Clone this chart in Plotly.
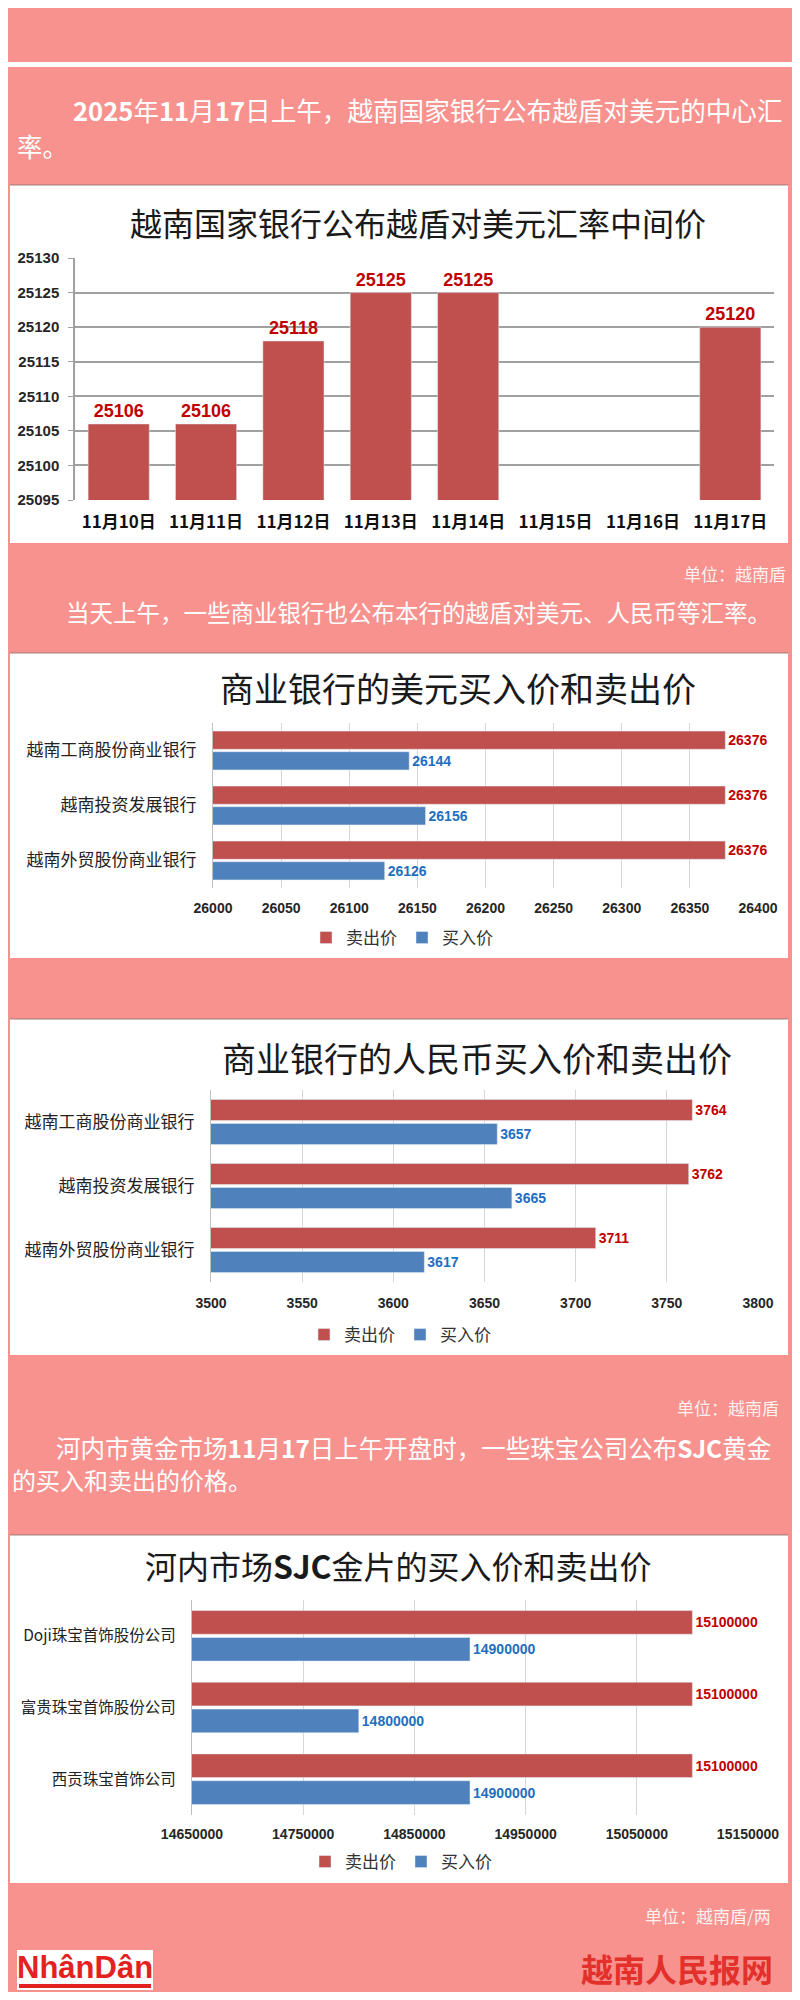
import plotly.graph_objects as go

# ---------------- data ----------------
dates = ["11月10日", "11月11日", "11月12日", "11月13日", "11月14日", "11月15日", "11月16日", "11月17日"]
mid_rates = [25106, 25106, 25118, 25125, 25125, None, None, 25120]

banks = ["越南工商股份商业银行", "越南投资发展银行", "越南外贸股份商业银行"]
usd_sell = [26376, 26376, 26376]
usd_buy = [26144, 26156, 26126]
cny_sell = [3764, 3762, 3711]
cny_buy = [3657, 3665, 3617]

gold_companies = ["Doji珠宝首饰股份公司", "富贵珠宝首饰股份公司", "西贡珠宝首饰公司"]
gold_sell = [15100000, 15100000, 15100000]
gold_buy = [14900000, 14800000, 14900000]

series_names = ["卖出价", "买入价"]

# ---------------- style ----------------
# the page body keeps an 8px margin (top/left), so the figure is sized to fit the window
OFF = 8
W, H = 800 - OFF, 2000 - 2 * OFF
PINK = "#F8928E"
RED = "#C0504D"
BLUE = "#4F81BD"
RED_TXT = "#C00000"
BLUE_TXT = "#1F6EC1"
CJK = "Noto Sans CJK SC, Noto Sans CJK JP, sans-serif"
NUM = "Liberation Sans Narrow, Arial Narrow, Liberation Sans, Arial, sans-serif"


def fx(x):
    return (x - OFF) / W


def fy(y):
    return 1 - (y - OFF) / H


fig = go.Figure()

# chart 1: vertical bars
fig.add_trace(go.Bar(
    x=dates, y=mid_rates, marker_color=RED, width=0.7,
    text=[("" if v is None else str(v)) for v in mid_rates],
    textposition="outside", cliponaxis=False, constraintext="none",
    textfont=dict(family=NUM, size=18, color=RED_TXT, weight="bold"),
    showlegend=False, xaxis="x", yaxis="y",
))

# charts 2-4: horizontal grouped bars
groups = [
    (banks, usd_sell, usd_buy, "x2", "y2", "legend"),
    (banks, cny_sell, cny_buy, "x3", "y3", "legend2"),
    (gold_companies, gold_sell, gold_buy, "x4", "y4", "legend3"),
]
for cats, sell, buy, xa, ya, lg in groups:
    for vals, col, tcol, name in [(sell, RED, RED_TXT, series_names[0]), (buy, BLUE, BLUE_TXT, series_names[1])]:
        fig.add_trace(go.Bar(
            y=cats, x=vals, orientation="h", name=name, marker_color=col,
            text=[str(v) for v in vals], textposition="outside",
            cliponaxis=False, constraintext="none",
            textfont=dict(family=NUM, size=14, color=tcol, weight="bold"),
            xaxis=xa, yaxis=ya, legend=lg,
        ))

tickfont_num = dict(family=NUM, size=14, color="#262626", weight="bold")

layout = dict(
    width=W, height=H, autosize=False,
    margin=dict(l=0, r=0, t=0, b=0, pad=0, autoexpand=False),
    paper_bgcolor=PINK, plot_bgcolor="rgba(0,0,0,0)",
    barmode="group", bargap=0.25, bargroupgap=0.12,
    # chart 1
    xaxis=dict(domain=[fx(75), fx(774)], anchor="y", type="category", automargin=False,
               showgrid=False, showline=False, ticks="",
               tickfont=dict(family=CJK, size=17, color="#111", weight="bold"),
               ticklabelstandoff=10),
    yaxis=dict(domain=[fy(500), fy(258)], anchor="x", range=[25095, 25130], dtick=5,
               tickformat="d", automargin=False,
               showgrid=True, gridcolor="#A0A0A0", gridwidth=1.5,
               showline=True, linecolor="#A0A0A0", linewidth=1.5,
               ticks="outside", ticklen=5, tickcolor="#A0A0A0",
               tickfont=dict(family=NUM, size=15, color="#262626", weight="bold"),
               ticklabelstandoff=6, zeroline=False),
)

hcfg = [
    ("2", (213, 758), (723, 888), [26000, 26400], 26000, 50, 10, 17, 12),
    ("3", (211, 758), (1090, 1282), [3500, 3800], 3500, 50, 11, 17, 12),
    ("4", (192, 748), (1600, 1815), [14650000, 15150000], 14650000, 100000, 9, 15.5, 12),
]
for k, (x0, x1), (y0, y1), rng, t0, dt, so, cfs, cso in hcfg:
    layout["xaxis" + k] = dict(domain=[fx(x0), fx(x1)], anchor="y" + k, range=rng,
                               tick0=t0, dtick=dt, automargin=False,
                               showgrid=True, gridcolor="#D6D6D6", gridwidth=1.2,
                               zeroline=False, showline=False, ticks="",
                               tickformat="d", tickfont=tickfont_num, ticklabelstandoff=so)
    layout["yaxis" + k] = dict(domain=[fy(y1), fy(y0)], anchor="x" + k, type="category",
                               autorange="reversed", showgrid=False, automargin=False,
                               showline=True, linecolor="#BFBFBF", linewidth=1.2, ticks="",
                               tickfont=dict(family=CJK, size=cfs, color="#222"),
                               ticklabelstandoff=cso)

leg_common = dict(orientation="h", xanchor="center", yanchor="middle",
                  font=dict(family=CJK, size=17, color="#333"),
                  bgcolor="rgba(0,0,0,0)", itemwidth=30, traceorder="normal")
layout["legend"] = dict(x=fx(402), y=fy(938), **leg_common)
layout["legend2"] = dict(x=fx(400), y=fy(1335), **leg_common)
layout["legend3"] = dict(x=fx(401), y=fy(1862), **leg_common)

fig.update_layout(**layout)

# ---------------- decorations ----------------
shapes = []
shapes.append(dict(type="rect", xref="paper", yref="paper", x0=0, x1=1, y0=fy(67), y1=fy(62),
                   fillcolor="white", line_width=0, layer="below"))
for (t, b) in [(185, 543), (653, 958), (1019, 1355), (1535, 1883)]:
    shapes.append(dict(type="rect", xref="paper", yref="paper", x0=fx(10), x1=fx(788),
                       y0=fy(b), y1=fy(t), fillcolor="white", line_width=0, layer="below"))
    shapes.append(dict(type="line", xref="paper", yref="paper", x0=fx(10), x1=fx(788),
                       y0=fy(t), y1=fy(t), line=dict(color="rgba(140,110,110,0.55)", width=1.5),
                       layer="below"))
# logo box
shapes.append(dict(type="rect", xref="paper", yref="paper", x0=fx(17), x1=fx(153),
                   y0=fy(1990), y1=fy(1950), fillcolor="white", line_width=0, layer="below"))
shapes.append(dict(type="rect", xref="paper", yref="paper", x0=fx(19), x1=fx(151),
                   y0=fy(1988), y1=fy(1984), fillcolor="#E3221F", line_width=0, layer="below"))
fig.update_layout(shapes=shapes)

ann = []


def text(x, y, s, size, color="white", anchor="left", family=CJK, weight="normal"):
    ann.append(dict(xref="paper", yref="paper", x=fx(x), y=fy(y), text=s, showarrow=False,
                    xanchor=anchor, yanchor="middle",
                    font=dict(family=family, size=size, color=color, weight=weight)))


# paragraphs
text(71, 110, "<b>2025</b>年<b>11</b>月<b>17</b>日上午，越南国家银行公布越盾对美元的中心汇", 25.6)
text(15, 145, "率。", 25.6)
text(788, 573, "单位：越南盾", 17, color="rgba(255,255,255,0.9)", anchor="right")
text(64, 612, "当天上午，一些商业银行也公布本行的越盾对美元、人民币等汇率。", 23.5)
text(781, 1407, "单位：越南盾", 17, color="rgba(255,255,255,0.9)", anchor="right")
text(54, 1447, "河内市黄金市场<b>11</b>月<b>17</b>日上午开盘时，一些珠宝公司公布<b>SJC</b>黄金", 24.5)
text(10, 1479, "的买入和卖出的价格。", 24)
text(773, 1915, "单位：越南盾/两", 17, color="rgba(255,255,255,0.9)", anchor="right")

# chart titles
text(418, 222, "越南国家银行公布越盾对美元汇率中间价", 32, color="#1a1a1a", anchor="center")
text(458, 687, "商业银行的美元买入价和卖出价", 34, color="#1a1a1a", anchor="center")
text(477, 1057, "商业银行的人民币买入价和卖出价", 34, color="#1a1a1a", anchor="center")
text(398, 1565, "河内市场<b>SJC</b>金片的买入价和卖出价", 32, color="#1a1a1a", anchor="center")

# logos
text(85, 1967, "NhânDân", 31, color="#E3221F", anchor="center", family=NUM, weight="bold")
text(775, 1968, "越南人民报网", 32, color="#E3302B", anchor="right", weight="bold")

fig.update_layout(annotations=ann)

fig.write_html("out.html")
